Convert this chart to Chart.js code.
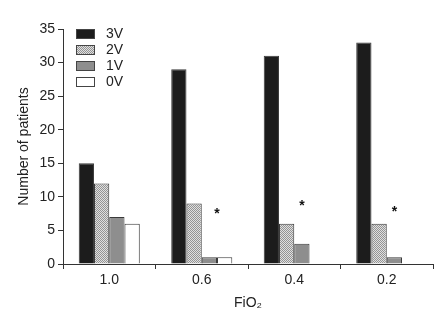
<!DOCTYPE html>
<html>
<head>
<meta charset="utf-8">
<script src="https://cdn.jsdelivr.net/npm/chart.js@4"></script>
<style>
  html, body { margin: 0; padding: 0; background: #fff; }
  #wrap { width: 437px; height: 316px; }
</style>
</head>
<body>
<div id="wrap"><canvas id="chart" width="437" height="316"></canvas></div>
<script>
// datos
const categories = ['1.0', '0.6', '0.4', '0.2'];
const serie3V = [15, 29, 31, 33];
const serie2V = [12, 9, 6, 6];
const serie1V = [7, 1, 3, 1];
const serie0V = [6, 1, 0, 0];
const seriesLabels = ['3V', '2V', '1V', '0V'];
const asterisco = [null, 7.9, 9.1, 8.2]; // altura del * en cada grupo
const yTicks = [0, 5, 10, 15, 20, 25, 30, 35];

const FONT = "'Liberation Sans', Arial, sans-serif";

// trama punteada para 2V
function tramaGris() {
  const c = document.createElement('canvas');
  c.width = 2; c.height = 2;
  const g = c.getContext('2d');
  g.fillStyle = '#e0e0e0';
  g.fillRect(0, 0, 2, 2);
  g.fillStyle = '#949494';
  g.fillRect(0, 0, 1, 1);
  g.fillRect(1, 1, 1, 1);
  return g.createPattern(c, 'repeat');
}

const ctx = document.getElementById('chart').getContext('2d');
const colores = ['#1c1c1c', tramaGris(), '#8e8e8e', '#ffffff'];
const valores = [serie3V, serie2V, serie1V, serie0V];

const leyenda = {
  id: 'leyenda',
  afterDraw(chart) {
    const c = chart.ctx;
    c.save();
    c.font = '14px ' + FONT;
    c.textBaseline = 'middle';
    chart.data.datasets.forEach((ds, i) => {
      const y = 29 + i * 16;
      c.fillStyle = ds.backgroundColor;
      c.fillRect(76, y, 19, 10);
      c.strokeStyle = '#444';
      c.lineWidth = 1;
      c.strokeRect(76.5, y + 0.5, 18, 9);
      c.fillStyle = '#222';
      c.fillText(ds.label, 106, y + 5);
    });
    c.restore();
  }
};

// el * va centrado sobre las barras chicas del grupo (1V, o 1V+0V si hay 0V)
const asteriscos = {
  id: 'asteriscos',
  afterDatasetsDraw(chart) {
    const c = chart.ctx;
    const m1 = chart.getDatasetMeta(2);
    const m0 = chart.getDatasetMeta(3);
    const yScale = chart.scales.y;
    c.save();
    c.font = 'bold 14px ' + FONT;
    c.fillStyle = '#111';
    c.textAlign = 'center';
    c.textBaseline = 'middle';
    asterisco.forEach((v, i) => {
      if (v == null) return;
      let x = m1.data[i].x;
      if (serie0V[i] > 0) x = (x + m0.data[i].x) / 2;
      c.fillText('*', x, yScale.getPixelForValue(v) + 3);
    });
    c.restore();
  }
};

new Chart(ctx, {
  type: 'bar',
  data: {
    labels: categories,
    datasets: seriesLabels.map((l, i) => ({
      label: l,
      data: valores[i],
      backgroundColor: colores[i],
      borderColor: '#3a3a3a',
      borderWidth: 1,
      borderSkipped: 'bottom',
      barPercentage: 1.0,
      categoryPercentage: 0.66
    }))
  },
  options: {
    responsive: false,
    animation: false,
    layout: { padding: { top: 29, right: 4, left: 0, bottom: 0 } },
    plugins: {
      legend: { display: false },
      tooltip: { enabled: false }
    },
    scales: {
      x: {
        afterFit(s) { s.height = 52; },
        border: { display: true, color: '#333', width: 1 },
        grid: { offset: true, drawOnChartArea: false, drawTicks: true, tickLength: 5, color: '#333' },
        ticks: { color: '#222', font: { size: 14, family: FONT }, padding: 3 },
        title: { display: true, text: 'FiO₂', color: '#222', font: { size: 14, family: FONT }, padding: { top: 2 } }
      },
      y: {
        min: 0,
        max: 35,
        afterFit(s) { s.width = 63; },
        afterBuildTicks(s) { s.ticks = yTicks.map(v => ({ value: v })); },
        border: { display: true, color: '#333', width: 1 },
        grid: { drawOnChartArea: false, drawTicks: true, tickLength: 5, color: '#333' },
        ticks: { color: '#222', font: { size: 14, family: FONT }, padding: 3 },
        title: { display: true, text: 'Number of patients', color: '#222', font: { size: 14, family: FONT }, padding: { top: 16, bottom: 4 } }
      }
    }
  },
  plugins: [leyenda, asteriscos]
});
</script>
</body>
</html>
